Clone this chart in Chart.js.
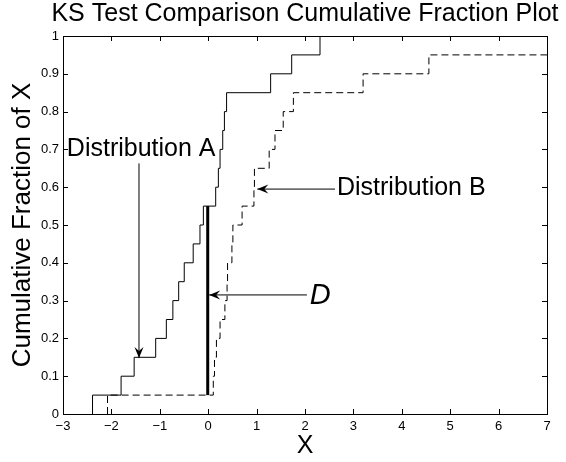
<!DOCTYPE html>
<html>
<head>
<meta charset="utf-8">
<script src="https://cdn.jsdelivr.net/npm/chart.js@4"></script>
<style>
  html, body { margin: 0; padding: 0; background: #fff; }
  canvas { display: block; }
</style>
</head>
<body>
<canvas id="ksChart" width="566" height="462"></canvas>
<script>
// sorted samples (20 values each)
const sampleA = [-2.39, -1.80, -1.53, -1.085, -0.865, -0.73, -0.61, -0.495, -0.31, -0.17,
                 -0.10, 0.155, 0.21, 0.245, 0.30, 0.335, 0.38, 1.29, 1.725, 2.31];
const sampleB = [-2.08, 0.105, 0.13, 0.17, 0.245, 0.345, 0.39, 0.40, 0.49, 0.51,
                 0.70, 0.945, 0.955, 1.26, 1.38, 1.55, 1.76, 3.20, 4.56, 7.6];

// the D statistic segment: x location and the two fractions it spans
const dX = -0.01;
const dRange = [0.05, 0.55];

const xTicks = [-3, -2, -1, 0, 1, 2, 3, 4, 5, 6, 7];
const yTicks = [0, 0.1, 0.2, 0.3, 0.4, 0.5, 0.6, 0.7, 0.8, 0.9, 1];

const titleText = 'KS Test Comparison Cumulative Fraction Plot';
const xLabel = 'X';
const yLabel = 'Cumulative Fraction of X';

// text labels with their arrows, in data units
const notes = [
  { text: 'Distribution A', at: [-2.92, 0.70], italic: false, arrow: [[-1.43, 0.663], [-1.43, 0.148]] },
  { text: 'Distribution B', at: [2.66, 0.598], italic: false, arrow: [[2.62, 0.595], [1.015, 0.595]] },
  { text: 'D', at: [2.10, 0.312], italic: true, arrow: [[2.04, 0.315], [0.02, 0.315]] }
];

const FONT = '"Liberation Sans", Arial, Helvetica, sans-serif';

function ecdf(sample) {
  const n = sample.length;
  const pts = [{ x: sample[0], y: 0 }];
  sample.forEach((v, i) => pts.push({ x: v, y: (i + 1) / n }));
  return pts;
}

function drawArrow(ctx, x1, y1, x2, y2) {
  ctx.beginPath();
  ctx.moveTo(x1, y1);
  ctx.lineTo(x2, y2);
  ctx.stroke();
  const a = Math.atan2(y2 - y1, x2 - x1);
  const c = Math.cos(a), s = Math.sin(a);
  const len = 11, half = 4.5, back = 7;
  ctx.beginPath();
  ctx.moveTo(x2, y2);
  ctx.lineTo(x2 - len * c + half * s, y2 - len * s - half * c);
  ctx.lineTo(x2 - back * c, y2 - back * s);
  ctx.lineTo(x2 - len * c - half * s, y2 - len * s + half * c);
  ctx.closePath();
  ctx.fill();
}

// matlab style box with inward ticks on every side
const boxTicks = {
  id: 'boxTicks',
  afterDatasetsDraw(chart) {
    const { ctx, chartArea: a, scales: { x, y } } = chart;
    const L = 5;
    ctx.save();
    ctx.strokeStyle = '#000';
    ctx.lineWidth = 1;
    ctx.beginPath();
    xTicks.forEach(v => {
      const px = Math.round(x.getPixelForValue(v)) + 0.5;
      ctx.moveTo(px, a.bottom); ctx.lineTo(px, a.bottom - L);
      ctx.moveTo(px, a.top); ctx.lineTo(px, a.top + L);
    });
    yTicks.forEach(v => {
      const py = Math.round(y.getPixelForValue(v)) + 0.5;
      ctx.moveTo(a.left, py); ctx.lineTo(a.left + L, py);
      ctx.moveTo(a.right, py); ctx.lineTo(a.right - L, py);
    });
    ctx.stroke();
    ctx.strokeRect(Math.round(a.left) + 0.5, Math.round(a.top) + 0.5,
                   Math.round(a.right - a.left), Math.round(a.bottom - a.top));
    ctx.restore();
  }
};

const annotations = {
  id: 'annotations',
  afterDraw(chart) {
    const { ctx, chartArea: area, scales: { x, y } } = chart;
    ctx.save();
    ctx.fillStyle = '#000';
    ctx.strokeStyle = '#000';
    ctx.lineWidth = 1;

    // title centred over the axes, allowed to run wider than them
    ctx.font = '25px ' + FONT;
    ctx.textAlign = 'center';
    ctx.textBaseline = 'middle';
    ctx.fillText(titleText, (area.left + area.right) / 2, 14);

    notes.forEach(n => {
      ctx.font = (n.italic ? 'italic 29px ' : '25px ') + FONT;
      ctx.textAlign = 'left';
      ctx.textBaseline = 'middle';
      ctx.fillText(n.text, x.getPixelForValue(n.at[0]), y.getPixelForValue(n.at[1]));
      const [p, q] = n.arrow;
      drawArrow(ctx, x.getPixelForValue(p[0]), y.getPixelForValue(p[1]),
                x.getPixelForValue(q[0]), y.getPixelForValue(q[1]));
    });
    ctx.restore();
  }
};

const fmtX = v => (v < 0 ? '\u2212' + Math.abs(v) : String(v));
const fmtY = v => String(Math.round(v * 10) / 10);

new Chart(document.getElementById('ksChart'), {
  type: 'line',
  data: {
    datasets: [
      {
        label: 'Distribution A',
        data: ecdf(sampleA),
        borderColor: '#000',
        borderWidth: 1,
        stepped: 'before',
        pointRadius: 0
      },
      {
        label: 'Distribution B',
        data: ecdf(sampleB),
        borderColor: '#000',
        borderWidth: 1,
        borderDash: [7, 4],
        stepped: 'before',
        pointRadius: 0
      },
      {
        label: 'D',
        data: [{ x: dX, y: dRange[0] }, { x: dX, y: dRange[1] }],
        borderColor: '#000',
        borderWidth: 3,
        pointRadius: 0
      }
    ]
  },
  options: {
    responsive: false,
    animation: false,
    devicePixelRatio: 1,
    layout: { padding: { left: 0, right: 19, top: 36, bottom: 0 } },
    plugins: {
      legend: { display: false },
      tooltip: { enabled: false },
      title: { display: false }
    },
    scales: {
      x: {
        type: 'linear',
        min: -3,
        max: 7,
        afterBuildTicks: s => { s.ticks = xTicks.map(v => ({ value: v })); },
        ticks: { color: '#000', font: { family: FONT, size: 13 }, padding: 5, maxRotation: 0, callback: fmtX },
        grid: { display: false, drawTicks: false },
        border: { display: false },
        title: { display: true, text: xLabel, color: '#000', font: { family: FONT, size: 25 }, padding: { top: 0, bottom: 1 } },
        afterFit: s => { s.height = 48; }
      },
      y: {
        type: 'linear',
        min: 0,
        max: 1,
        afterBuildTicks: s => { s.ticks = yTicks.map(v => ({ value: v })); },
        ticks: { color: '#000', font: { family: FONT, size: 13 }, padding: 4, callback: fmtY },
        grid: { display: false, drawTicks: false },
        border: { display: false },
        title: { display: true, text: yLabel, color: '#000', font: { family: FONT, size: 26 }, padding: { top: 7, bottom: 0 } },
        afterFit: s => { s.width = 63; }
      }
    }
  },
  plugins: [boxTicks, annotations]
});
</script>
</body>
</html>
